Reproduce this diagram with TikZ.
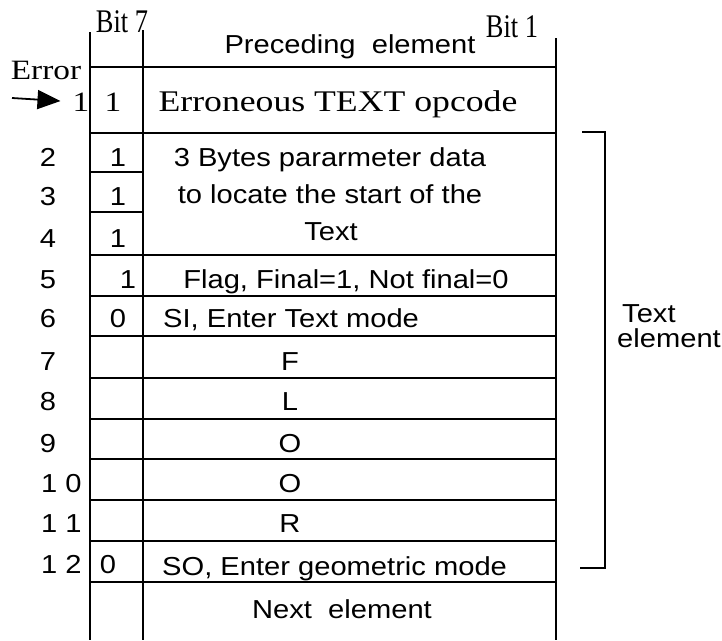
\documentclass[tikz,border=0pt]{standalone}
\usepackage{fontspec}
\setmainfont{Liberation Serif}
\newfontfamily\helv[FakeStretch=1.12]{Liberation Sans}
\newfontfamily\tms[FakeStretch=1.19]{Liberation Serif}
\newfontfamily\tmsn[FakeStretch=0.8]{Liberation Serif}
\usepackage{tikz}
\usetikzlibrary{arrows.meta,positioning,calc}

\begin{document}
\begin{tikzpicture}[
    x=1pt,y=-1pt,
    rule/.style = {line width=1.8pt,black},
    brk/.style  = {line width=1.5pt,black},
    sans/.style = {font=\helv\fontsize{26}{28}\selectfont,inner sep=0pt,anchor=base},
    serif/.style= {font=\tms\fontsize{30}{32}\selectfont,inner sep=0pt,anchor=base},
    onebit/.style={font=\tms\fontsize{28}{30}\selectfont,inner sep=0pt,anchor=base},
    bitl/.style = {font=\tmsn\fontsize{33}{35}\selectfont,inner sep=0pt,anchor=base},
    pt/.style   = {-{Triangle[length=23pt,width=19pt]},line width=1.8pt,shorten >=12pt},
  ]
  \useasboundingbox (0,0) rectangle (722,640);

  % grille
  \draw[rule] (90,32)  -- (90,640);
  \draw[rule] (143,30) -- (143,640);
  \draw[rule] (556,38) -- (556,640);
  \foreach \yy in {67,133,255,296,336,378,419,459,500,541,582}
    \draw[rule] (90,\yy) -- (556,\yy);
  \foreach \yy in {172,212}
    \draw[rule] (90,\yy) -- (143,\yy);

  % en-tetes
  \node[bitl] (b7) at (122,32) {Bit 7};
  \node[bitl] (b1) at (512,37) {Bit 1};
  \node[sans] (prec) at (350,53) {Preceding\ \ element};
  \node[serif,font=\tms\fontsize{28}{30}\selectfont] (err) at (46,79) {Error};
  \coordinate (errtail) at (12,98);

  % numeros de ligne
  \node[onebit] (r1) at (81,111) {1};
  \foreach \n/\yy in {2/166,3/205,4/247,5/288,6/327,7/370,8/410,9/452}
    \node[sans] (r\n) at (48,\yy) {\n};
  \foreach \n/\lbl/\yy in {10/1 0/492,11/1 1/532,12/1 2/573}
    \node[sans,anchor=base west] (r\n) at (41,\yy) {\lbl};

  % bit 7
  \node[onebit] (v1) at (113,111) {1};
  \node[sans] (v2) at (118,166) {1};
  \node[sans] (v3) at (118,205) {1};
  \node[sans] (v4) at (118,247) {1};
  \node[sans] (v5) at (128,288) {1};
  \node[sans] (v6) at (118,327) {0};
  \node[sans] (v12) at (108,573) {0};

  % contenu
  \node[serif] (opc) at (338,111) {Erroneous TEXT opcode};
  \node[sans] (p1) at (330,166) {3 Bytes pararmeter data};
  \node[sans] (p2) at (330,203) {to locate the start of the};
  \node[sans] (p3) at (331,240) {Text};
  \node[sans] (flag) at (346,288) {Flag, Final=1, Not final=0};
  \node[sans,anchor=base west] (si) at (163,327) {SI, Enter Text mode};
  \foreach \c/\yy in {F/370,L/410,O/452,O/492,R/532}
    \node[sans] at (290,\yy) {\c};
  \node[sans,anchor=base west] (so) at (162,575) {SO, Enter geometric mode};
  \node[sans] (next) at (342,618) {Next\ \ element};

  \draw[pt] (errtail) -- (r1.west);

  % accolade
  \draw[brk] (582,132) -- (605,132) -- (605,568) -- (580,568);
  \node[sans,anchor=base west] (tx) at (622,322) {Text};
  \node[sans,anchor=base west] (el) at (617,347) {element};

\end{tikzpicture}
\end{document}
